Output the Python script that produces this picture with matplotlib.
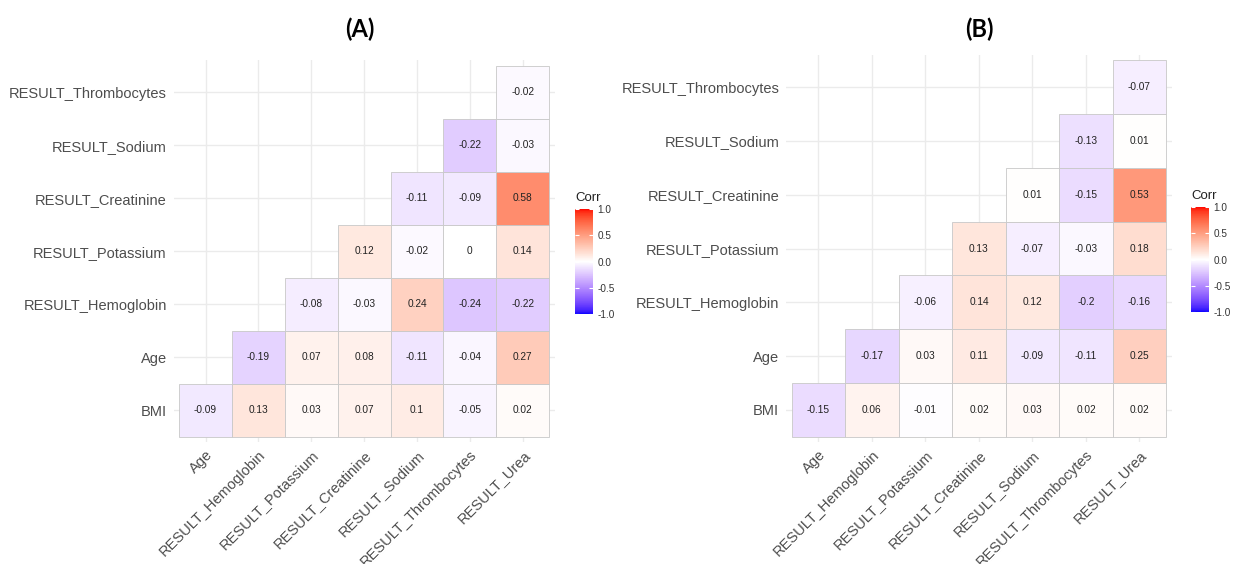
import numpy as np
import matplotlib
matplotlib.use('Agg')
import matplotlib.pyplot as plt
import matplotlib.cm as cm
from matplotlib.colors import ListedColormap, Normalize
from matplotlib.patches import Rectangle

plt.rcParams['font.family'] = ['Liberation Sans', 'DejaVu Sans']

# columns left to right, rows bottom to top (lower triangle)
cols = ["Age", "RESULT_Hemoglobin", "RESULT_Potassium", "RESULT_Creatinine",
        "RESULT_Sodium", "RESULT_Thrombocytes", "RESULT_Urea"]
rows = ["BMI", "Age", "RESULT_Hemoglobin", "RESULT_Potassium",
        "RESULT_Creatinine", "RESULT_Sodium", "RESULT_Thrombocytes"]

# each row lists its cells from the first filled column to RESULT_Urea
corr_a = [
    [-0.09, 0.13, 0.03, 0.07, 0.1, -0.05, 0.02],
    [-0.19, 0.07, 0.08, -0.11, -0.04, 0.27],
    [-0.08, -0.03, 0.24, -0.24, -0.22],
    [0.12, -0.02, 0, 0.14],
    [-0.11, -0.09, 0.58],
    [-0.22, -0.03],
    [-0.02],
]
corr_b = [
    [-0.15, 0.06, -0.01, 0.02, 0.03, 0.02, 0.02],
    [-0.17, 0.03, 0.11, -0.09, -0.11, 0.25],
    [-0.06, 0.14, 0.12, -0.2, -0.16],
    [0.13, -0.07, -0.03, 0.18],
    [0.01, -0.15, 0.53],
    [-0.13, 0.01],
    [-0.07],
]
cbar_ticks = [-1.0, -0.5, 0.0, 0.5, 1.0]


def lab_to_rgb(lab):
    L, a, b = lab[:, 0], lab[:, 1], lab[:, 2]
    fy = (L + 16) / 116
    fx = fy + a / 500
    fz = fy - b / 200
    d = 6 / 29

    def finv(t):
        return np.where(t > d, t ** 3, 3 * d ** 2 * (t - 4 / 29))

    xyz = np.stack([0.95047 * finv(fx), finv(fy), 1.08883 * finv(fz)], axis=1)
    m = np.array([[3.2406, -1.5372, -0.4986],
                  [-0.9689, 1.8758, 0.0415],
                  [0.0557, -0.2040, 1.0570]])
    lin = np.clip(xyz @ m.T, 0, 1)
    rgb = np.where(lin <= 0.0031308, 12.92 * lin, 1.055 * lin ** (1 / 2.4) - 0.055)
    return np.clip(rgb, 0, 1)


# blue - white - red diverging scale interpolated in Lab space
lab_blue = np.array([32.30, 79.19, -107.86])
lab_white = np.array([100.0, 0.0, 0.0])
lab_red = np.array([53.24, 80.09, 67.20])
t = np.linspace(-1, 1, 257)
lab = np.array([lab_white + (-v) * (lab_blue - lab_white) if v < 0
                else lab_white + v * (lab_red - lab_white) for v in t])
cmap = ListedColormap(lab_to_rgb(lab))
norm = Normalize(-1, 1)

fig = plt.figure(figsize=(12.33, 5.64), dpi=100)


def draw_panel(rect, values, title, title_xy, cbar_rect):
    ax = fig.add_axes(rect)
    n = len(cols)
    for k in range(n):
        ax.axvline(k, color='#EBEBEB', lw=1.0, zorder=0)
        ax.axhline(k, color='#EBEBEB', lw=1.0, zorder=0)
    for i, row_vals in enumerate(values):
        start = n - len(row_vals)
        for k, v in enumerate(row_vals):
            x = start + k
            ax.add_patch(Rectangle((x - 0.5, i - 0.5), 1, 1, facecolor=cmap(norm(v)),
                                   edgecolor='#C8C8C8', lw=0.6, zorder=2))
            ax.text(x, i, f"{v:g}", ha='center', va='center', fontsize=7.3,
                    color='#222222', zorder=3)
    ax.set_xlim(-0.6, n - 0.4)
    ax.set_ylim(-0.6, n - 0.4)
    ax.set_xticks(range(n))
    ax.set_yticks(range(n))
    ax.set_xticklabels(cols, rotation=45, ha='right', va='top',
                       rotation_mode='anchor')
    ax.set_yticklabels(rows)
    ax.tick_params(length=0, labelsize=10.5, labelcolor='#4D4D4D')
    ax.tick_params(axis='y', pad=5)
    ax.tick_params(axis='x', pad=4)
    for s in ax.spines.values():
        s.set_visible(False)

    fig.text(title_xy[0] / 1233, 1 - title_xy[1] / 564, title, ha='center',
             va='center', fontsize=17, fontweight='bold', family='Lato')

    cax = fig.add_axes(cbar_rect)
    sm = cm.ScalarMappable(norm=norm, cmap=cmap)
    cb = fig.colorbar(sm, cax=cax, ticks=cbar_ticks)
    cb.outline.set_visible(False)
    cb.ax.set_yticklabels([f"{v:.1f}" for v in cbar_ticks])
    cax.tick_params(direction='in', color='white', length=2.6, width=0.8,
                    left=True, right=True, labelleft=False, labelright=True,
                    labelsize=7.2, labelcolor='#333333', pad=3)
    fig.text(cbar_rect[0], cbar_rect[1] + cbar_rect[3] + 0.008, "Corr",
             ha='left', va='bottom', fontsize=9.5, color='#222222')
    return ax


draw_panel([173.8 / 1233, 1 - 442.0 / 564, 380.7 / 1233, 381.6 / 564],
           corr_a, "(A)", (360, 29),
           [575 / 1233, 1 - 314 / 564, 18 / 1233, 105 / 564])
draw_panel([786.3 / 1233, 1 - 442.1 / 564, 385.3 / 1233, 387.2 / 564],
           corr_b, "(B)", (979, 29),
           [1191 / 1233, 1 - 312 / 564, 18 / 1233, 105 / 564])

fig.savefig('out.png', dpi=100, facecolor='white')
